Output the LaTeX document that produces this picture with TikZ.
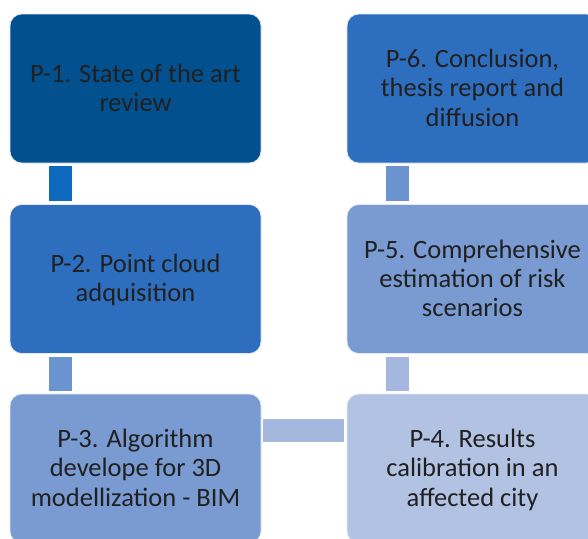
\documentclass[tikz,border=0pt]{standalone}
\usepackage{fontspec}
\setmainfont{Carlito}
\definecolor{stageA}{HTML}{03508F}
\definecolor{stageB}{HTML}{2E6EBE}
\definecolor{stageC}{HTML}{799BD2}
\definecolor{stageD}{HTML}{B2C2E3}
\definecolor{linkA}{HTML}{0D6ABE}
\definecolor{linkB}{HTML}{6A93D0}
\definecolor{linkC}{HTML}{A4B7DF}
\definecolor{inktext}{HTML}{202020}
\newcommand{\stagetext}[1]{\raisebox{-2.5pt}[\height][\depth]{\begin{tabular}{@{}c@{}}#1\end{tabular}}}
\tikzset{
  stage/.style={draw=white!85!stageB, line width=0.6pt, rounded corners=12pt,
    minimum width=251pt, minimum height=149pt, inner sep=0pt, text=inktext},
  link/.style={line width=23pt, line cap=butt}
}
\begin{document}
\begin{tikzpicture}[x=1pt,y=1pt]\fontsize{26.5}{29.2}\selectfont
  \useasboundingbox (0,0) rectangle (588,-538);
  \path
  (135.5,-88.5) node[stage, fill=stageA] (P1) {%
    \stagetext{P-1. State of the art\\ review}}
  (135.5,-279) node[stage, fill=stageB] (P2) {%
    \stagetext{P-2. Point cloud\\ adquisition}}
  (135.5,-468.5) node[stage, fill=stageC] (P3) {%
    \stagetext{P-3. Algorithm\\ develope for 3D\\ modellization - BIM}}
  (472.5,-468.5) node[stage, fill=stageD] (P4) {%
    \stagetext{P-4. Results\\ calibration in an\\ affected city}}
  (472.5,-279) node[stage, fill=stageC] (P5) {%
    \stagetext{P-5. Comprehensive\\ estimation of risk\\ scenarios}}
  (472.5,-88.5) node[stage, fill=stageB] (P6) {%
    \stagetext{P-6. Conclusion,\\ thesis report and\\ diffusion}};

  \draw[link, linkA] ([shift={(50.5,-3)}]P1.south west) -- ([shift={(50.5,3)}]P2.north west);
  \draw[link, linkB] ([shift={(50.5,-3)}]P2.south west) -- ([shift={(50.5,3)}]P3.north west);
  \draw[link, linkC] ([shift={(2,-36.5)}]P3.north east) -- ([shift={(-3,-36.5)}]P4.north west);
  \draw[link, linkC] ([shift={(50.5,3)}]P4.north west) -- ([shift={(50.5,-3)}]P5.south west);
  \draw[link, linkB] ([shift={(50.5,3)}]P5.north west) -- ([shift={(50.5,-3)}]P6.south west);
\end{tikzpicture}
\end{document}
